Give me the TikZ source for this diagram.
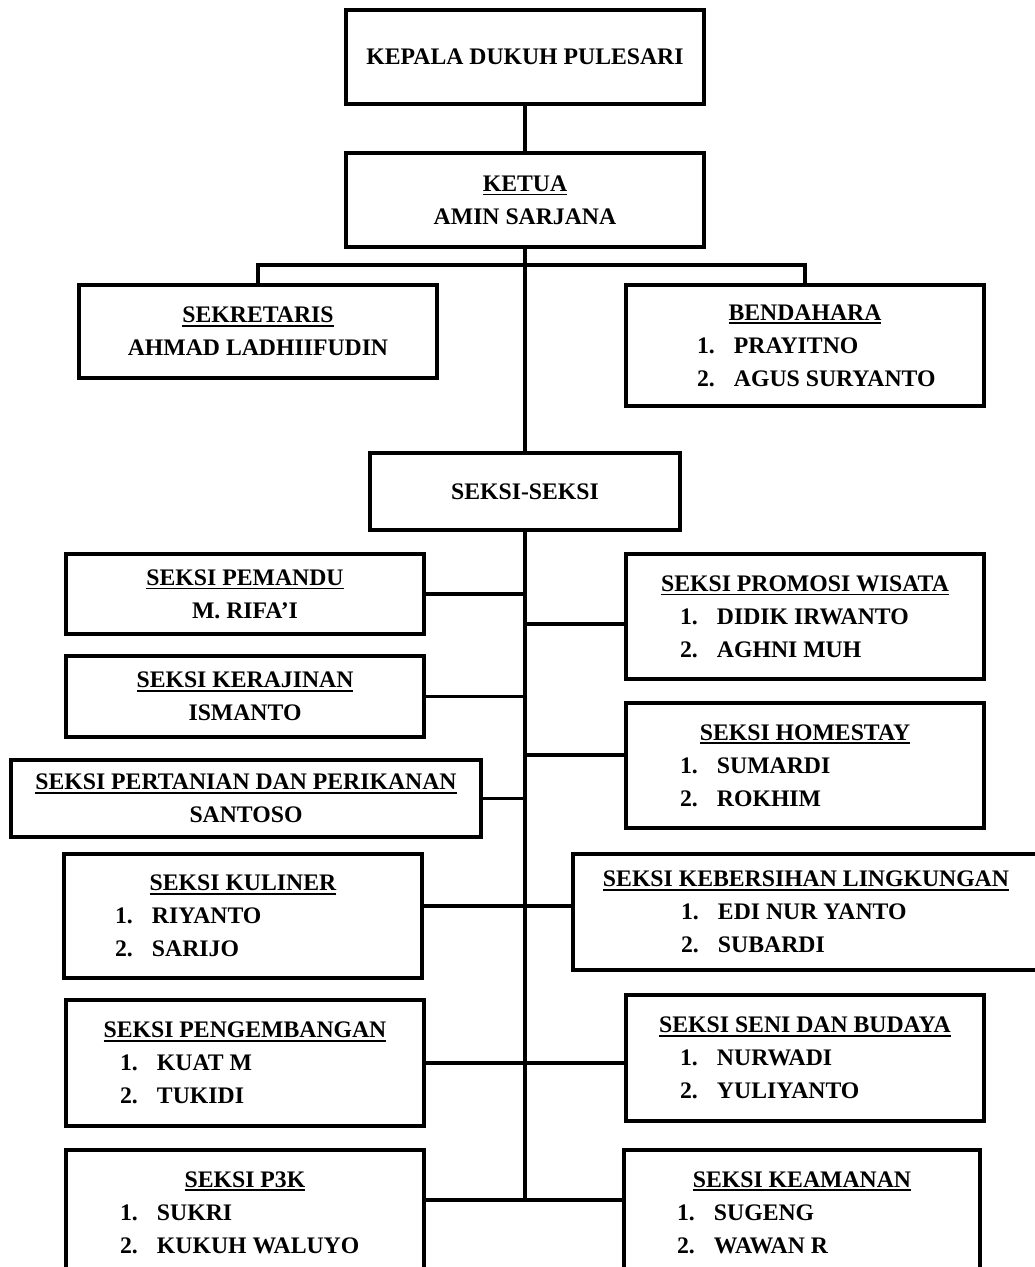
\documentclass[tikz,border=0pt]{standalone}
\usepackage{fontspec}
\setmainfont{Liberation Serif}
\usetikzlibrary{positioning, calc, shadows}
\newcommand{\hd}[1]{\leavevmode\vtop{\hbox{#1}\kern1.2pt\hrule height 1pt}}
\newcommand{\nmr}[3][5cm]{\makebox[#1][l]{\makebox[0.74cm][l]{#2}#3}}
\tikzset{
    box_org/.style={
        rectangle, draw=black, line width=2.4pt, fill=white,
        minimum width=7.16cm, minimum height=1.6cm,
        align=center, font=\fontsize{13.5}{18.8}\selectfont\bfseries,
        drop shadow={opacity=0.3, shadow xshift=1pt, shadow yshift=-1pt}
    },
    link_line/.style={
        draw=black, line width=2.2pt
    }
}

\begin{document}
\begin{tikzpicture}

    \path[use as bounding box, fill=white] (0,0) rectangle (20.7,-25.34);

    \node[box_org, minimum height=1.88cm] (kepala) at (10.5,-1.14) {KEPALA DUKUH PULESARI};
    \node[box_org, minimum height=1.88cm] (ketua) at (10.5,-4.0) {\hd{KETUA}\\AMIN SARJANA};
    \node[box_org, minimum height=1.86cm] (sekretaris) at (5.16,-6.63) {\hd{SEKRETARIS}\\AHMAD LADHIIFUDIN};
    \node[box_org, minimum height=2.42cm] (bendahara) at (16.1,-6.91) {\hd{BENDAHARA}\\\nmr[4.32cm]{1.}{PRAYITNO}\\\nmr[4.32cm]{2.}{AGUS SURYANTO}};
    \node[box_org, minimum width=6.2cm, minimum height=1.54cm] (seksi) at (10.5,-9.83) {SEKSI-SEKSI};

    \node[box_org] (pemandu) at (4.9,-11.88) {\hd{SEKSI PEMANDU}\\M. RIFA'I};
    \node[box_org, minimum height=2.5cm] (promosi) at (16.1,-12.33) {\hd{SEKSI PROMOSI WISATA}\\\nmr{1.}{DIDIK IRWANTO}\\\nmr{2.}{AGHNI MUH}};
    \node[box_org, minimum height=1.62cm] (kerajinan) at (4.9,-13.93) {\hd{SEKSI KERAJINAN}\\ISMANTO};
    \node[box_org, minimum height=2.5cm] (homestay) at (16.1,-15.31) {\hd{SEKSI HOMESTAY}\\\nmr{1.}{SUMARDI}\\\nmr{2.}{ROKHIM}};
    \node[box_org, minimum width=9.4cm, minimum height=1.54cm] (pertanian) at (4.92,-15.97) {\hd{SEKSI PERTANIAN DAN PERIKANAN}\\SANTOSO};
    \node[box_org, minimum height=2.48cm] (kuliner) at (4.86,-18.32) {\hd{SEKSI KULINER}\\\nmr[5.12cm]{1.}{RIYANTO}\\\nmr[5.12cm]{2.}{SARIJO}};
    \node[box_org, minimum width=9.32cm, minimum height=2.32cm] (kebersihan) at (16.12,-18.24) {\hd{SEKSI KEBERSIHAN LINGKUNGAN}\\\nmr{1.}{EDI NUR YANTO}\\\nmr{2.}{SUBARDI}};
    \node[box_org, minimum height=2.52cm] (pengembangan) at (4.9,-21.26) {\hd{SEKSI PENGEMBANGAN}\\\nmr{1.}{KUAT M}\\\nmr{2.}{TUKIDI}};
    \node[box_org, minimum height=2.52cm] (seni) at (16.1,-21.16) {\hd{SEKSI SENI DAN BUDAYA}\\\nmr{1.}{NURWADI}\\\nmr{2.}{YULIYANTO}};
    \node[box_org, minimum height=2.5cm] (p3k) at (4.9,-24.25) {\hd{SEKSI P3K}\\\nmr{1.}{SUKRI}\\\nmr{2.}{KUKUH WALUYO}};
    \node[box_org, minimum width=7.12cm, minimum height=2.5cm] (keamanan) at (16.04,-24.25) {\hd{SEKSI KEAMANAN}\\\nmr{1.}{SUGENG}\\\nmr{2.}{WAWAN R}};

    % top of the chart
    \coordinate (split) at (10.5,-5.3);
    \coordinate (trunk_end) at (10.5,-24.0);
    \draw[link_line] (kepala) -- (ketua);
    \draw[link_line] (sekretaris.north) |- (split) -| (bendahara.north);
    \draw[link_line] (ketua) -- (seksi);
    \draw[link_line] (seksi) -- (trunk_end);

    % branches of the seksi
    \coordinate (promosi_in) at ([yshift=-0.15cm]promosi.west);
    \coordinate (homestay_in) at ([yshift=0.21cm]homestay.west);
    \coordinate (kuliner_out) at ([yshift=0.2cm]kuliner.east);
    \draw[link_line] (pemandu.east) -- (pemandu.east -| seksi.south);
    \draw[link_line] (promosi_in) -- (promosi_in -| seksi.south);
    \draw[link_line] (kerajinan.east) -- (kerajinan.east -| seksi.south);
    \draw[link_line] (homestay_in) -- (homestay_in -| seksi.south);
    \draw[link_line] (pertanian.east) -- (pertanian.east -| seksi.south);
    \draw[link_line] (kuliner_out) -- (kuliner_out -| kebersihan.west);
    \draw[link_line] (pengembangan.east) -- (pengembangan.east -| seni.west);
    \draw[link_line] (p3k.east |- trunk_end) -- (keamanan.west |- trunk_end);

\end{tikzpicture}
\end{document}
